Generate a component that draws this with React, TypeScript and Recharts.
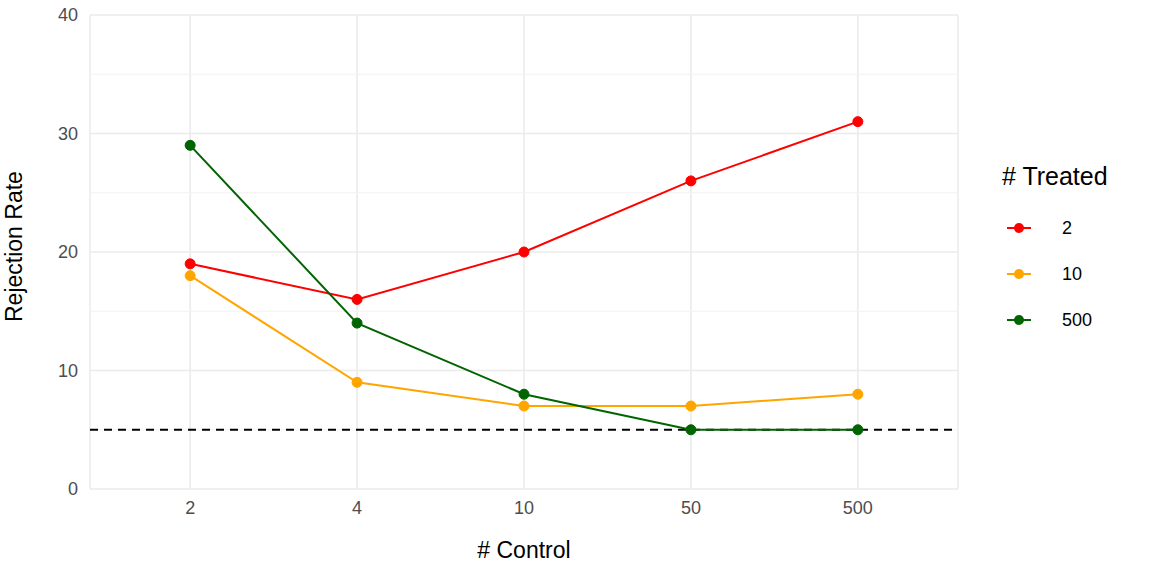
import { LineChart, Line, XAxis, YAxis, CartesianGrid, ReferenceLine } from 'recharts';

const controls = ['2', '4', '10', '50', '500'];
const treated2 = [19, 16, 20, 26, 31];
const treated10 = [18, 9, 7, 7, 8];
const treated500 = [29, 14, 8, 5, 5];
const yTicks = [0, 10, 20, 30, 40];
const minorTicks = [5, 15, 25, 35];
const threshold = 5;

const series = [
  { key: 't2', name: '2', color: '#ff0000' },
  { key: 't10', name: '10', color: '#ffa500' },
  { key: 't500', name: '500', color: '#006400' },
];

const data = controls.map((c, i) => ({
  x: i,
  t2: treated2[i],
  t10: treated10[i],
  t500: treated500[i],
}));

const font = 'Liberation Sans, Arial, sans-serif';

export default function App() {
  return (
    <div style={{ position: 'absolute', left: 0, top: 0, width: 1152, height: 576, background: '#fff', fontFamily: font }}>
      <LineChart width={1152} height={576} data={data} margin={{ top: 15, right: 194, bottom: 0, left: 0 }}>
        <CartesianGrid stroke="#ebebeb" strokeWidth={1.6} verticalPoints={undefined} />
        {minorTicks.map((v) => (
          <ReferenceLine key={v} y={v} stroke="#f2f2f2" strokeWidth={1} />
        ))}
        <XAxis
          dataKey="x"
          type="number"
          domain={[-0.6, 4.6]}
          ticks={[0, 1, 2, 3, 4]}
          tickFormatter={(v) => controls[v]}
          axisLine={false}
          tickLine={false}
          height={87}
          tick={{ fontSize: 18, fill: '#4d4d4d', fontFamily: font }}
          tickMargin={6}
          label={{ value: '# Control', position: 'insideBottom', offset: 18, fontSize: 23, fill: '#000', fontFamily: font }}
        />
        <YAxis
          domain={[0, 40]}
          ticks={yTicks}
          axisLine={false}
          tickLine={false}
          width={90}
          tick={{ fontSize: 18, fill: '#4d4d4d', fontFamily: font }}
          tickMargin={6}
          label={{ value: 'Rejection Rate', angle: -90, position: 'insideLeft', offset: 14, dy: 70, fontSize: 23, fill: '#000', fontFamily: font }}
        />
        <ReferenceLine y={threshold} stroke="#000" strokeWidth={2} strokeDasharray="8 6" />
        {series.map((s) => (
          <Line
            key={s.key}
            dataKey={s.key}
            stroke={s.color}
            strokeWidth={2}
            dot={{ r: 5, fill: s.color, stroke: s.color, strokeWidth: 1 }}
            isAnimationActive={false}
          />
        ))}
      </LineChart>
      <div style={{ position: 'absolute', left: 1002, top: 162, fontSize: 25, color: '#000' }}># Treated</div>
      {series.map((s, i) => (
        <div key={s.key} style={{ position: 'absolute', left: 1006, top: 216 + i * 46, display: 'flex', alignItems: 'center', height: 24 }}>
          <svg width={26} height={24}>
            <line x1={1} x2={25} y1={12} y2={12} stroke={s.color} strokeWidth={2} />
            <circle cx={13} cy={12} r={5} fill={s.color} />
          </svg>
          <span style={{ marginLeft: 30, fontSize: 18 }}>{s.name}</span>
        </div>
      ))}
    </div>
  );
}
